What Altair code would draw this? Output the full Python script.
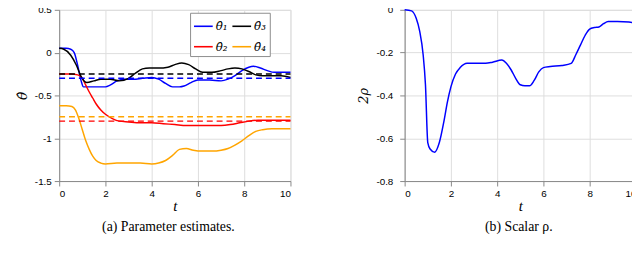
import altair as alt
import pandas as pd

# ---------------- data ----------------
t1 = [0, 0.3, 0.5, 0.65, 0.8, 0.95, 1.05, 1.5, 2.0, 2.2, 2.5, 2.8, 3.2, 3.6, 4.0, 4.3, 4.6, 4.9, 5.2, 5.4, 5.7,
      6.0, 6.5, 7.0, 7.3, 7.6, 7.9, 8.2, 8.4, 8.7, 9.0, 9.3, 9.6, 10]
v1 = [0.05, 0.05, 0.04, 0.0, -0.15, -0.33, -0.40, -0.40, -0.40, -0.38, -0.33, -0.31, -0.31, -0.30, -0.29, -0.31,
      -0.36, -0.40, -0.40, -0.39, -0.35, -0.32, -0.32, -0.33, -0.31, -0.27, -0.21, -0.17, -0.16, -0.18, -0.21,
      -0.23, -0.23, -0.23]

t2 = [0, 0.5, 0.8, 1.0, 1.15, 1.3, 1.45, 1.6, 1.8, 2.0, 2.3, 2.6, 3.0, 3.5, 4.0, 4.5, 5.0, 5.5, 6.0, 6.5, 7.0,
      7.4, 7.8, 8.2, 8.6, 9.0, 10]
v2 = [-0.25, -0.25, -0.26, -0.3, -0.38, -0.46, -0.53, -0.6, -0.67, -0.72, -0.77, -0.8, -0.81, -0.82, -0.82, -0.83,
      -0.84, -0.85, -0.85, -0.85, -0.85, -0.84, -0.82, -0.80, -0.79, -0.79, -0.79]

t3 = [0, 0.2, 0.5, 0.75, 0.95, 1.2, 1.5, 1.8, 2.2, 2.6, 3.0, 3.3, 3.6, 3.9, 4.3, 4.7, 5.0, 5.3, 5.6, 5.9, 6.2,
      6.6, 7.0, 7.3, 7.6, 7.9, 8.2, 8.5, 8.8, 9.2, 9.6, 10]
v3 = [0.05, 0.04, -0.03, -0.15, -0.28, -0.35, -0.33, -0.31, -0.31, -0.33, -0.30, -0.24, -0.19, -0.18, -0.18, -0.17,
      -0.14, -0.12, -0.14, -0.19, -0.23, -0.23, -0.21, -0.19, -0.18, -0.19, -0.22, -0.26, -0.27, -0.27, -0.27,
      -0.29]

t4 = [0, 0.3, 0.55, 0.7, 0.85, 1.0, 1.15, 1.3, 1.45, 1.6, 1.8, 2.0, 2.5, 3.0, 3.5, 4.0, 4.3, 4.6, 4.9, 5.2, 5.5,
      5.8, 6.2, 6.6, 7.0, 7.3, 7.6, 7.9, 8.2, 8.5, 8.8, 9.2, 10]
v4 = [-0.62, -0.62, -0.63, -0.67, -0.77, -0.9, -1.03, -1.13, -1.21, -1.26, -1.29, -1.3, -1.29, -1.29, -1.29, -1.3,
      -1.29, -1.26, -1.2, -1.13, -1.12, -1.14, -1.15, -1.15, -1.14, -1.12, -1.08, -1.03, -0.97, -0.92, -0.9,
      -0.89, -0.89]

true_vals = [-0.3, -0.8, -0.25, -0.75]  # theta1..theta4 true values (dashed)

tr = [0, 0.3, 0.5, 0.65, 0.8, 0.9, 1.0, 1.1, 1.3, 1.5, 1.7, 1.85, 2.0, 2.2, 2.4, 2.7, 3.0, 3.5, 3.8, 4.2, 4.4,
      4.6, 4.8, 5.0, 5.2, 5.4, 5.6, 5.8, 6.0, 6.3, 6.8, 7.2, 7.4, 7.6, 7.8, 8.0, 8.2, 8.4, 8.6, 8.8, 9.2, 9.7, 10]
vr = [0, -0.005, -0.04, -0.1, -0.21, -0.35, -0.62, -0.65, -0.665, -0.62, -0.52, -0.43, -0.36, -0.3, -0.27, -0.25,
      -0.25, -0.25, -0.245, -0.235, -0.25, -0.28, -0.32, -0.35, -0.355, -0.355, -0.33, -0.29, -0.27, -0.265,
      -0.26, -0.25, -0.21, -0.165, -0.12, -0.09, -0.083, -0.08, -0.065, -0.055, -0.055, -0.057, -0.065]

names = ["\u03b8\u0302\u2081", "\u03b8\u0302\u2082", "\u03b8\u0302\u2083", "\u03b8\u0302\u2084"]
colors = {names[0]: "#0000ff", names[1]: "#ff0000", names[2]: "#000000", names[3]: "#ffa500"}

x_ticks = [0, 2, 4, 6, 8, 10]
y_ticks_a = [0.5, 0, -0.5, -1, -1.5]
y_ticks_b = [0, -0.2, -0.4, -0.6, -0.8]

# ---------------- frames ----------------
rows = []
for name, ts, vs in zip(names, [t1, t2, t3, t4], [v1, v2, v3, v4]):
    for t, v in zip(ts, vs):
        rows.append({"t": t, "v": v, "param": name})
df_est = pd.DataFrame(rows)

rows = []
for name, tv in zip(names, true_vals):
    rows += [{"t": 0, "v": tv, "param": name}, {"t": 10, "v": tv, "param": name}]
df_true = pd.DataFrame(rows)

df_rho = pd.DataFrame({"t": tr, "v": vr})

W, H = 235, 174
SERIF = "Liberation Serif"
MATH = "DejaVu Serif"
SANS = "Liberation Sans"

color_scale = alt.Scale(domain=names, range=[colors[n] for n in names])

xenc = alt.X("t:Q", scale=alt.Scale(domain=[0, 10], nice=False),
             axis=alt.Axis(values=x_ticks, title="t", titleFontStyle="italic", titleFont=SERIF,
                           titleFontSize=15, titleFontWeight="normal", titlePadding=0,
                           labelPadding=3, labelExpr="'' + datum.value"))

legend = alt.Legend(title=None, orient="none", legendX=133, legendY=3, columns=2, values=names,
                    symbolType="stroke", symbolSize=361, symbolStrokeWidth=1.6,
                    labelFont=MATH, labelFontStyle="italic", labelFontSize=12, labelColor="#000",
                    strokeColor="#8c8c8c", fillColor="#ffffff", padding=3, columnPadding=0,
                    rowPadding=4, labelOffset=2)

est = alt.Chart(df_est).mark_line(interpolate="monotone", strokeWidth=1.5).encode(
    x=xenc,
    y=alt.Y("v:Q", scale=alt.Scale(domain=[-1.5, 0.5], nice=False),
            axis=alt.Axis(values=y_ticks_a, title="\u03b8\u0302", titleFont=MATH, titleFontStyle="italic",
                          titleFontSize=14, titleFontWeight="normal", titlePadding=5,
                          labelPadding=3, labelExpr="'' + datum.value")),
    color=alt.Color("param:N", scale=color_scale, legend=legend),
)
dash = alt.Chart(df_true).mark_line(strokeDash=[6, 4], strokeWidth=1.5).encode(
    x="t:Q", y="v:Q",
    color=alt.Color("param:N", scale=color_scale, legend=legend),
    detail="param:N",
)
cap_a = alt.Chart(pd.DataFrame({"c": ["(a) Parameter estimates."]})).mark_text(
    font=SERIF, fontSize=14, color="#000", baseline="middle", align="center"
).encode(text="c:N", x=alt.value(111), y=alt.value(221))

left = alt.layer(est, dash, cap_a).properties(width=W, height=H)

rho = alt.Chart(df_rho).mark_line(interpolate="monotone", strokeWidth=1.5, color="#0000ff").encode(
    x=xenc,
    y=alt.Y("v:Q", scale=alt.Scale(domain=[-0.8, 0], nice=False),
            axis=alt.Axis(values=y_ticks_b, title="2\u03c1", titleFont=MATH, titleFontStyle="italic",
                          titleFontSize=13, titleFontWeight="normal", titlePadding=5,
                          labelPadding=7, labelExpr="'' + datum.value")),
)
cap_b = alt.Chart(pd.DataFrame({"c": ["(b) Scalar \u03c1."]})).mark_text(
    font=SERIF, fontSize=14, color="#000", baseline="middle", align="center"
).encode(text="c:N", x=alt.value(116), y=alt.value(221))

right = alt.layer(rho, cap_b).properties(width=W, height=H)

chart = alt.hconcat(left, right, spacing=64).properties(
    padding={"left": 7, "top": -6, "right": -8, "bottom": 0}
).configure_view(stroke="#8c8c8c", strokeWidth=1).configure_axis(
    grid=True, gridColor="#e3e3e3", gridWidth=1, domain=False, ticks=False,
    labelFont=SANS, labelFontSize=11, labelColor="#333333", titleColor="#000000",
).configure(background="white")

chart.save("out.html", embed_options={"renderer": "svg", "actions": False})
